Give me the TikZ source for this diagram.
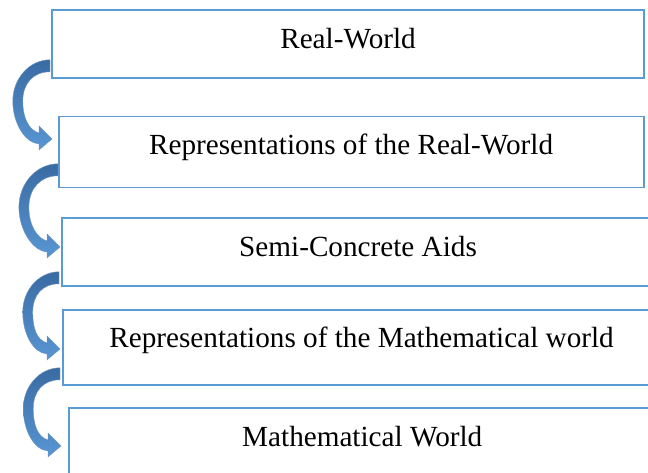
\documentclass[tikz,border=0pt]{standalone}
\usepackage{fontspec}
\setmainfont{Liberation Serif}
\usetikzlibrary{calc}
\definecolor{boxblue}{HTML}{5B9BD5}
\definecolor{arrdark}{HTML}{3A6BA3}
\definecolor{arrlight}{HTML}{5896D3}
\tikzset{
  box/.style={draw=boxblue, line width=1.8pt, fill=white, anchor=north west, inner sep=0pt},
  lbl/.style={anchor=base, inner sep=0pt, font=\fontsize{29.2}{35}\selectfont},
  arrowfill/.style={top color=arrdark, bottom color=arrlight, draw=arrdark!70!white, line width=0.4pt}
}
\newcommand{\bentarrow}[2]{%
  \begin{scope}[shift={(#1)}]
    \path[arrowfill] let \p1=(#1), \p2=(#2), \n1={scalar(\y1-\y2)}, \n2={scalar(\x2-\x1)}, \n3={0.47*\n1} in
      (0,0) .. controls ({-0.56*\n3},0) and ({-\n3},{0.24*\n1}) .. ({-\n3},{0.52*\n1})
      .. controls ({-\n3},{0.8*\n1}) and ({\n2-27},{\n1+4}) .. ({\n2-13},{\n1+5})
      -- ({\n2-13},{\n1+11}) -- ({\n2},{\n1}) -- ({\n2-13},{\n1-13}) -- ({\n2-13},{\n1-6})
      .. controls ({\n2-23},{\n1-9}) and ({-\n3+10},{0.74*\n1}) .. ({-\n3+10},{0.52*\n1})
      .. controls ({-\n3+10},{0.3*\n1}) and ({-0.45*\n3},12) .. (0,12) -- cycle;
  \end{scope}}
\begin{document}
\begin{tikzpicture}[x=1pt,y=-1pt]
  \useasboundingbox (0,0) rectangle (648,473);
  \clip (0,0) rectangle (648,473);
  % boxes
  \node[box, minimum width=592.3pt, minimum height=68pt] (b1) at (51,9.3) {};
  \node[box, minimum width=585pt, minimum height=71pt] (b2) at (57.7,115.7) {};
  \node[box, minimum width=591.7pt, minimum height=68pt] (b3) at (61.3,217.3) {};
  \node[box, minimum width=596.7pt, minimum height=74.7pt] (b4) at (62.3,309.3) {};
  \node[box, minimum width=587.3pt, minimum height=80pt] (b5) at (67.7,406.7) {};
  % labels
  \node[lbl] (t1) at ($(b1.north)+(0,39.3)$) {Real-World};
  \node[lbl] (t2) at ($(b2.north)+(0,39)$) {Representations of the Real-World};
  \node[lbl] (t3) at ($(b3.north)+(0,39)$) {Semi-Concrete Aids};
  \node[lbl] (t4) at ($(b4.north)+(0,37.8)$) {Representations of the Mathematical world};
  \node[lbl] (t5) at ($(b5.north)+(0,39.5)$) {Mathematical World};
  % connector end points
  \coordinate (s1) at ($(b1.south west)+(-1,-19.3)$);
  \coordinate (e1) at ($(b2.north west)+(-5.7,23.3)$);
  \coordinate (s2) at ($(b2.south west)+(0.3,-24.7)$);
  \coordinate (e2) at ($(b3.north west)+(-1.3,29.7)$);
  \coordinate (s3) at ($(b3.south west)+(-2.3,-15.3)$);
  \coordinate (e3) at ($(b4.north west)+(-2.3,39.7)$);
  \coordinate (s4) at ($(b4.south west)+(-2.3,-18)$);
  \coordinate (e4) at ($(b5.north west)+(-6.7,39.3)$);
  % curved arrows
  \bentarrow{s1}{e1}
  \bentarrow{s2}{e2}
  \bentarrow{s3}{e3}
  \bentarrow{s4}{e4}
\end{tikzpicture}
\end{document}
